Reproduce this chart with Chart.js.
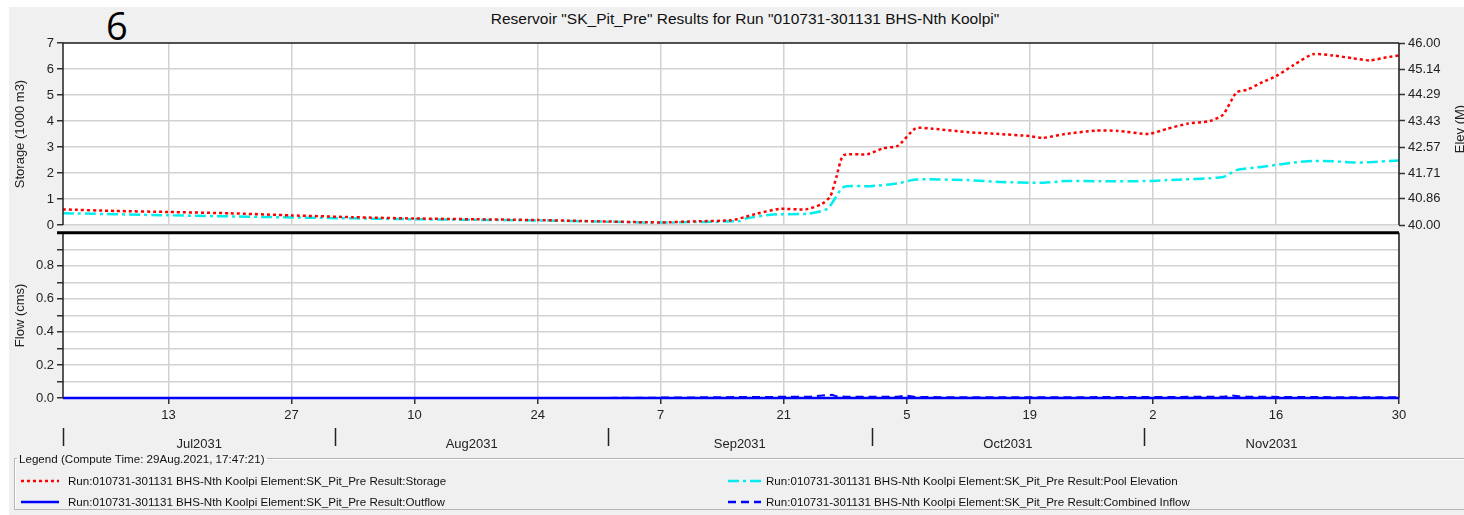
<!DOCTYPE html>
<html>
<head>
<meta charset="utf-8">
<script src="https://cdn.jsdelivr.net/npm/chart.js@4.4.1/dist/chart.umd.min.js"></script>
<style>
  body { margin: 0; background: #ffffff; width: 1464px; height: 515px; overflow: hidden; position: relative; font-family: "Liberation Sans", Arial, sans-serif; }
  #panel { position: absolute; left: 9px; top: 7px; width: 1455px; height: 508px; background: #f0f0f0; }
  canvas { position: absolute; left: 0; }
  #topCanvas { top: 28px; }
  #flowCanvas { top: 222px; }
  #title { position: absolute; top: 10px; left: 0; width: 1490px; text-align: center; font-size: 15.5px; color: #111; }
  #bigSix { position: absolute; left: 106px; top: 3px; font-family: "Open Sans", sans-serif; font-size: 38px; line-height: 1.2; color: #000; }
  #legendBox { position: absolute; left: 14px; top: 452px; width: 1470px; height: 56px; margin: 0; padding: 0; border: 1px solid #b4b4b4; box-shadow: 1px 1px 0 #fff inset; }
  #legendBox legend { font-size: 11.6px; color: #111; padding: 0 2px; margin-left: 2px; }
  .entry { position: absolute; font-size: 11.6px; color: #111; white-space: nowrap; }
  .entry svg { position: absolute; top: 1px; }
  .entry span { position: absolute; top: 0; }
</style>
</head>
<body>
<div id="panel"></div>
<div id="title">Reservoir "SK_Pit_Pre" Results for Run "010731-301131 BHS-Nth Koolpi"</div>
<div id="bigSix">6</div>
<canvas id="topCanvas" width="1464" height="208"></canvas>
<canvas id="flowCanvas" width="1464" height="230"></canvas>
<fieldset id="legendBox"><legend>Legend (Compute Time: 29Aug.2021, 17:47:21)</legend></fieldset>
<script>
// days counted from 1 Jul 2031 (0) to 30 Nov 2031 (152)
const tickDays = [12, 26, 40, 54, 68, 82, 96, 110, 124, 138, 152];
const dayLabels = ['13', '27', '10', '24', '7', '21', '5', '19', '2', '16', '30'];
const monthStarts = [0, 31, 62, 92, 123];
const monthMids = [15.5, 46.5, 77, 107.5, 137.5];
const monthLabels = ['Jul2031', 'Aug2031', 'Sep2031', 'Oct2031', 'Nov2031'];

const storageDays = [0, 6, 12, 19, 26, 33, 40, 47, 54, 61, 68, 72, 76, 77.5, 79, 81.5, 84.5, 86.3, 87.3, 88, 88.8,
  91.5, 93.3, 95, 97, 99, 103, 106.5, 110, 111.5, 114, 117.5, 120, 123.5, 125.6, 128, 130.5, 132, 133.5, 134.7,
  136.5, 138, 140, 142.2, 144.5, 146.8, 148.7, 150.6, 152];
const storageVals = [0.6, 0.54, 0.5, 0.45, 0.37, 0.3, 0.25, 0.22, 0.19, 0.14, 0.1, 0.14, 0.18, 0.3, 0.44, 0.62, 0.6, 0.8, 1.1, 1.85, 2.68,
  2.72, 2.95, 3.05, 3.72, 3.7, 3.57, 3.5, 3.42, 3.35, 3.5, 3.63, 3.62, 3.5, 3.7, 3.9, 4.0, 4.25, 5.1, 5.2,
  5.5, 5.72, 6.15, 6.57, 6.52, 6.41, 6.33, 6.45, 6.52];

const elevDays = [0, 12, 26, 40, 54, 68, 72, 77, 77.6, 80.8, 84.7, 87, 88.8, 91.9, 94.9, 97, 102.9, 106.6, 111.5, 114.2,
  118, 123.7, 125.6, 132, 133.5, 136.5, 140, 142.2, 144.5, 146.8, 148.7, 152];
const elevVals = [40.39, 40.32, 40.25, 40.19, 40.15, 40.08, 40.1, 40.13, 40.21, 40.35, 40.37, 40.54, 41.25, 41.28, 41.37, 41.5, 41.48, 41.42, 41.39, 41.45,
  41.44, 41.45, 41.48, 41.58, 41.81, 41.92, 42.06, 42.11, 42.1, 42.06, 42.07, 42.13];
const elevTickLabels = ['40.00', '40.86', '41.71', '42.57', '43.43', '44.29', '45.14', '46.00'];

const flowDays = [0, 60, 70, 78, 85, 87.5, 88, 89, 95, 96, 97, 105, 124, 132, 133, 134, 140, 152];
const inflowVals = [0, 0, 0.003, 0.006, 0.008, 0.02, 0.01, 0.008, 0.008, 0.015, 0.006, 0.004, 0.006, 0.008, 0.015, 0.008, 0.006, 0.004];
const outflowVals = [0, 0, 0, 0, 0, 0, 0, 0, 0, 0, 0, 0, 0, 0, 0, 0, 0, 0];
const flowTickLabels = ['0.0', '', '0.2', '', '0.4', '', '0.6', '', '0.8', '', ''];

const seriesNames = [
  'Run:010731-301131 BHS-Nth Koolpi Element:SK_Pit_Pre Result:Storage',
  'Run:010731-301131 BHS-Nth Koolpi Element:SK_Pit_Pre Result:Pool Elevation',
  'Run:010731-301131 BHS-Nth Koolpi Element:SK_Pit_Pre Result:Outflow',
  'Run:010731-301131 BHS-Nth Koolpi Element:SK_Pit_Pre Result:Combined Inflow'
];

const gridColor = '#d2d2d2';
const tickFont = { family: 'Liberation Sans', size: 13 };
Chart.defaults.color = '#222';

function pts(xs, ys) {
  return xs.map((d, i) => ({ x: d, y: ys[i] }));
}

// white plot background + frame
const framePlugin = {
  id: 'frame',
  beforeDraw(chart) {
    const { ctx, chartArea: a } = chart;
    ctx.save();
    ctx.fillStyle = '#fff';
    ctx.fillRect(a.left, a.top, a.right - a.left, a.bottom - a.top);
    ctx.restore();
  },
  afterDraw(chart, args, opts) {
    const { ctx, chartArea: a } = chart;
    ctx.save();
    ctx.strokeStyle = '#222';
    ctx.lineWidth = 1.5;
    ctx.beginPath();
    ctx.moveTo(a.left, a.top); ctx.lineTo(a.left, a.bottom);
    ctx.moveTo(a.right, a.top); ctx.lineTo(a.right, a.bottom);
    if (opts.topLine) { ctx.moveTo(a.left, a.top); ctx.lineTo(a.right, a.top); }
    ctx.stroke();
    if (opts.thickTop) {
      ctx.strokeStyle = '#000';
      ctx.lineWidth = 3;
      ctx.beginPath();
      ctx.moveTo(a.left - 6, a.top); ctx.lineTo(a.right, a.top);
      ctx.stroke();
    }
    if (opts.months) {
      const xs = chart.scales.x;
      ctx.strokeStyle = '#222';
      ctx.lineWidth = 1.5;
      ctx.beginPath();
      monthStarts.forEach(m => {
        const px = Math.round(xs.getPixelForValue(m)) + 0.5;
        ctx.moveTo(px, a.bottom + 30); ctx.lineTo(px, a.bottom + 48);
      });
      ctx.stroke();
    }
    if (opts.elevTitle) {
      ctx.fillStyle = '#222';
      ctx.font = '13px "Liberation Sans"';
      ctx.translate(1460, a.top + 86);
      ctx.rotate(-Math.PI / 2);
      ctx.textAlign = 'center';
      ctx.textBaseline = 'middle';
      ctx.fillText('Elev (M)', 0, 0);
    }
    ctx.restore();
  }
};

new Chart(document.getElementById('topCanvas'), {
  type: 'line',
  data: {
    datasets: [
      { label: seriesNames[0], yAxisID: 'y', data: pts(storageDays, storageVals), borderColor: '#ff0000',
        borderWidth: 2.5, borderDash: [3, 3], pointRadius: 0, tension: 0.2 },
      { label: seriesNames[1], yAxisID: 'y2', data: pts(elevDays, elevVals), borderColor: '#00eeee',
        borderWidth: 2.5, borderDash: [11, 4, 3, 4], pointRadius: 0, tension: 0.2 }
    ]
  },
  options: {
    responsive: false,
    animation: false,
    layout: { autoPadding: false, padding: { top: 15, bottom: 11 } },
    plugins: { legend: { display: false }, tooltip: { enabled: false }, frame: { topLine: true, elevTitle: true } },
    scales: {
      x: {
        type: 'linear', min: 0, max: 152,
        afterBuildTicks: a => { a.ticks = tickDays.map(v => ({ value: v })); },
        ticks: { display: false },
        grid: { color: gridColor, lineWidth: 1.5, drawTicks: false },
        border: { display: false },
        afterFit: a => { a.height = 0; }
      },
      y: {
        position: 'left', min: 0, max: 7,
        ticks: { stepSize: 1, font: tickFont, padding: 3 },
        grid: { color: gridColor, lineWidth: 1.5, tickLength: 6, tickColor: '#333', tickWidth: 1.5 },
        border: { display: false },
        title: { display: true, text: 'Storage (1000 m3)', font: tickFont, color: '#222', padding: { top: 13 } },
        afterFit: a => { a.width = 63; }
      },
      y2: {
        position: 'right', min: 40, max: 46,
        afterBuildTicks: a => { a.ticks = elevTickLabels.map(t => ({ value: Number(t) })); },
        ticks: { font: tickFont, padding: 3, callback: (v, i) => elevTickLabels[i] },
        grid: { drawOnChartArea: false, tickLength: 6, tickColor: '#333', tickWidth: 1.5 },
        border: { display: false },
        afterFit: a => { a.width = 65; }
      }
    }
  },
  plugins: [framePlugin]
});

new Chart(document.getElementById('flowCanvas'), {
  type: 'line',
  data: {
    datasets: [
      { label: seriesNames[3], data: pts(flowDays, inflowVals), borderColor: '#0000ff',
        borderWidth: 2, borderDash: [8, 5], pointRadius: 0, tension: 0, clip: 3 },
      { label: seriesNames[2], data: pts(flowDays, outflowVals), borderColor: '#0000ff',
        borderWidth: 2.5, pointRadius: 0, tension: 0, clip: 3 }
    ]
  },
  options: {
    responsive: false,
    animation: false,
    layout: { autoPadding: false, padding: { top: 4, right: 65, bottom: 0 } },
    plugins: { legend: { display: false }, tooltip: { enabled: false }, frame: { thickTop: true, months: true } },
    scales: {
      x: {
        type: 'linear', min: 0, max: 152, position: 'bottom', weight: 0,
        afterBuildTicks: a => { a.ticks = tickDays.map(v => ({ value: v })); },
        ticks: { font: tickFont, padding: 4, autoSkip: false, maxRotation: 0, callback: (v, i) => dayLabels[i] },
        grid: { color: gridColor, lineWidth: 1.5, tickLength: 6, tickColor: '#333', tickWidth: 1.5 },
        border: { display: true, color: '#333', width: 1 },
        afterFit: a => { a.height = 28; }
      },
      month: {
        type: 'linear', min: 0, max: 152, position: 'bottom', weight: 1,
        afterBuildTicks: a => { a.ticks = monthMids.map(v => ({ value: v })); },
        ticks: { font: tickFont, padding: 3, autoSkip: false, maxRotation: 0, callback: (v, i) => monthLabels[i] },
        grid: { display: false },
        border: { display: false },
        afterFit: a => { a.height = 26; }
      },
      y: {
        position: 'left', min: 0, max: 1,
        ticks: { stepSize: 0.1, font: tickFont, padding: 3, autoSkip: false, callback: (v, i) => flowTickLabels[i] },
        grid: { color: gridColor, lineWidth: 1.5, tickLength: 6, tickColor: '#333', tickWidth: 1.5 },
        border: { display: false },
        title: { display: true, text: 'Flow (cms)', font: tickFont, color: '#222', padding: { top: 13 } },
        afterFit: a => { a.width = 63; }
      }
    }
  },
  plugins: [framePlugin]
});

// legend entries
const legendStyles = [
  { color: '#ff0000', dash: '3 3', left: 6, top: 21 },
  { color: '#00eeee', dash: '11 4 3 4', left: 713, top: 21 },
  { color: '#0000ff', dash: '', left: 6, top: 42 },
  { color: '#0000ff', dash: '8 5', left: 713, top: 42 }
];
const box = document.getElementById('legendBox');
seriesNames.forEach((name, i) => {
  const s = legendStyles[i];
  const e = document.createElement('div');
  e.className = 'entry';
  e.style.left = s.left + 'px';
  e.style.top = (s.top - 12) + 'px';
  const w = i % 2 === 0 ? 38 : 33;
  const gap = i % 2 === 0 ? 9 : 5;
  e.innerHTML = '<svg width="' + w + '" height="12"><line x1="0" y1="6" x2="' + w + '" y2="6" stroke="' + s.color +
    '" stroke-width="2.5" stroke-dasharray="' + s.dash + '"/></svg><span style="left:' + (w + gap) + 'px">' + name + '</span>';
  box.appendChild(e);
});
</script>
</body>
</html>
